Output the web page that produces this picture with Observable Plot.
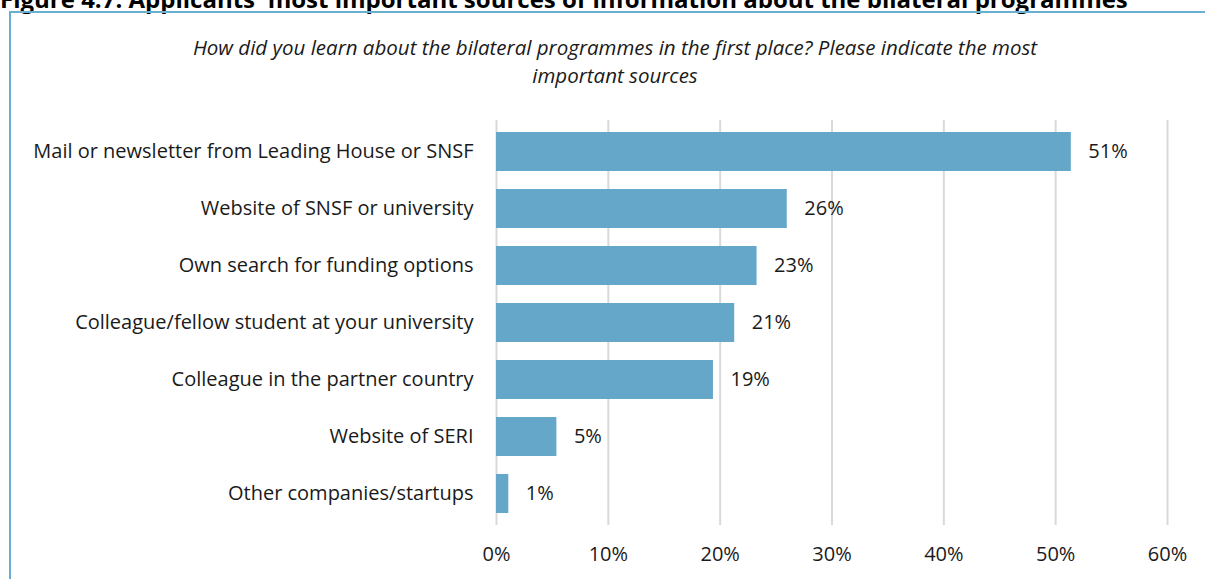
<!DOCTYPE html>
<html>
<head>
<meta charset="utf-8">
<script src="https://cdn.jsdelivr.net/npm/d3@7"></script>
<script src="https://cdn.jsdelivr.net/npm/@observablehq/plot@0.6"></script>
<style>
  html, body { margin: 0; padding: 0; background: #fff; overflow: hidden; }
  body { width: 1205px; height: 579px; position: relative; font-family: "Open Sans", sans-serif; color: #000; }
  #title { position: absolute; left: 0; top: -18px; font-size: 24px; font-weight: bold; white-space: nowrap; color: #000; }
  #frame { position: absolute; left: 9px; top: 11px; width: 1300px; height: 700px; border: 2px solid #6aaed0; box-sizing: border-box; }
  #subtitle { position: absolute; left: 0; width: 1230px; top: 33px; text-align: center; font-style: italic; font-size: 20.5px; line-height: 28px; color: #1a1a1a; }
  #chart { position: absolute; left: 0; top: 100px; }
</style>
</head>
<body>
<div id="title">Figure 4.7: Applicants' most important sources of information about the bilateral programmes</div>
<div id="frame"></div>
<div id="subtitle">How did you learn about the bilateral programmes in the first place? Please indicate the most<br>important sources</div>
<div id="chart"></div>
<script>
const categories = [
  "Mail or newsletter from Leading House or SNSF",
  "Website of SNSF or university",
  "Own search for funding options",
  "Colleague/fellow student at your university",
  "Colleague in the partner country",
  "Website of SERI",
  "Other companies/startups"
];
const values = [0.514, 0.26, 0.233, 0.213, 0.194, 0.054, 0.011];
const valueLabels = ["51%", "26%", "23%", "21%", "19%", "5%", "1%"];
const xTicks = [0, 0.1, 0.2, 0.3, 0.4, 0.5, 0.6];

const data = categories.map((c, i) => ({category: c, value: values[i], label: valueLabels[i]}));

const chart = Plot.plot({
  width: 1205,
  height: 479,
  marginLeft: 496,
  marginRight: 38,
  marginTop: 20,
  marginBottom: 54,
  style: {fontFamily: "'Open Sans', sans-serif", fontSize: "20px", color: "#1a1a1a", background: "transparent"},
  x: {domain: [0, 0.6], ticks: xTicks, tickFormat: d => Math.round(d * 100) + "%"},
  y: {domain: categories, paddingInner: 0.31, paddingOuter: 0.16},
  marks: [
    Plot.ruleX(xTicks, {stroke: "#d9d9d9", strokeWidth: 2}),
    Plot.barX(data, {x: "value", y: "category", fill: "#65a7c8"}),
    Plot.text(data, {x: "value", y: "category", text: "label", dx: 17, textAnchor: "start", fontSize: 20, fill: "#1a1a1a"}),
    Plot.axisX({ticks: xTicks, tickSize: 0, tickPadding: 21, fontSize: 20, tickFormat: d => Math.round(d * 100) + "%", label: null}),
    Plot.axisY({tickSize: 0, tickPadding: 23, fontSize: 20, label: null})
  ]
});
document.getElementById("chart").appendChild(chart);
</script>
</body>
</html>
